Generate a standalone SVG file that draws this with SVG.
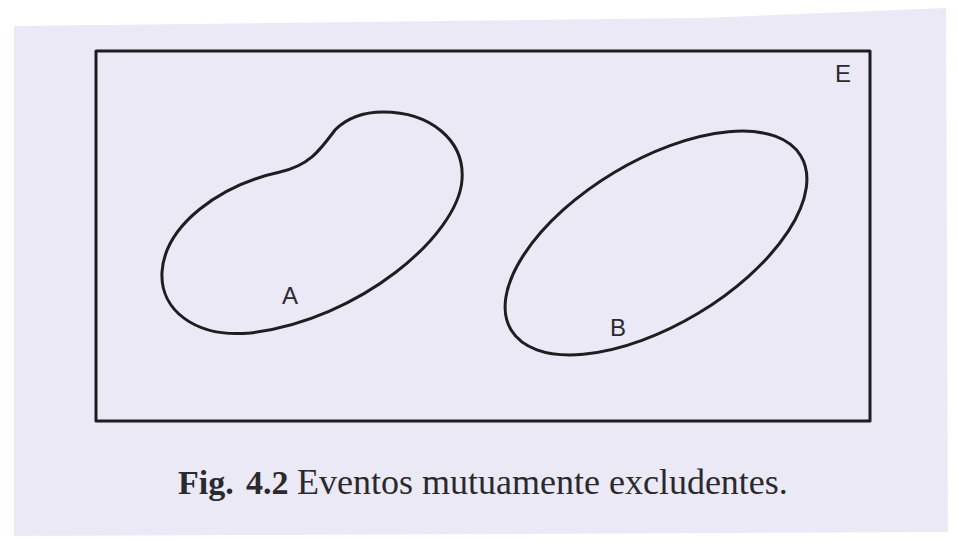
<svg xmlns="http://www.w3.org/2000/svg" width="958" height="541" viewBox="0 0 958 541">
<style>
.ln{fill:none;stroke:#1e1e22;stroke-width:3;stroke-linejoin:round}
.lbl{font-family:"Liberation Sans",Arial,sans-serif;font-size:24px;fill:#2a2a2e}
.cap{font-family:"Liberation Serif","Times New Roman",serif;font-size:36px;fill:#2a2a2e}
.capb{font-weight:bold;font-size:34px}
</style>
<rect width="958" height="541" fill="#ffffff"/>
<polygon points="14,26 700,18 946,8 948,532 14,536" fill="#ebe9f6"/>
<g id="universe">
<rect x="96" y="51" width="774" height="370" class="ln" stroke-width="2.5"/>
<text x="843" y="82" class="lbl" text-anchor="middle">E</text>
</g>
<g id="eventA">
<path class="ln" d="M383,112 C430,112 465,140 462,180 C458,235 360,320 250,333 C195,338 160,310 162,272 C165,225 220,185 280,172 C310,165 320,150 335,130 C348,117 365,112 383,112 Z"/>
<text x="290" y="304" class="lbl" text-anchor="middle">A</text>
</g>
<g id="eventB">
<ellipse cx="656" cy="243" rx="169" ry="82" transform="rotate(-31 656 243)" class="ln"/>
<text x="618" y="336" class="lbl" text-anchor="middle">B</text>
</g>
<text y="494" class="cap"><tspan x="178" class="capb">Fig.</tspan><tspan x="246" class="capb">4.2</tspan><tspan x="297">Eventos mutuamente excludentes.</tspan></text>
</svg>
